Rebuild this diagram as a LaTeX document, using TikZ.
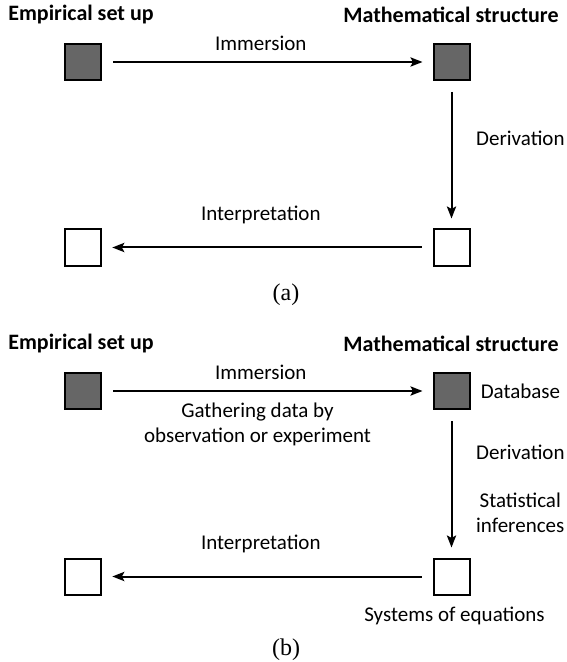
\documentclass[tikz,border=0pt]{standalone}
\usepackage{fontspec}
\setmainfont{Carlito}
\newfontfamily\capfont{Liberation Serif}
\usetikzlibrary{arrows.meta,positioning}

\begin{document}
\begin{tikzpicture}[x=0.5pt,y=-0.5pt,font=\fontsize{10.5pt}{12.5pt}\selectfont]
        \useasboundingbox (0,0) rectangle (566,662);

        % (a)
        \node[font=\fontsize{11pt}{13pt}\selectfont\bfseries] (Ta) at (81,15) {Empirical set up};
        \node[font=\fontsize{11pt}{13pt}\selectfont\bfseries] (Ua) at (451,15) {Mathematical structure};

        \begin{scope}[every node/.style={rectangle,draw,line width=1pt,minimum size=18pt,inner sep=0pt}]
            \node[fill=black!60] (A) at (83.3,62) {};
            \node[fill=black!60] (B) at (451.5,62) {};
            \node (C) at (83.3,247.5) {};
            \node (D) at (451.5,247.5) {};
        \end{scope}

        \begin{scope}[>={Stealth[black,length=6pt,width=4.6pt,inset=1.2pt]},
            every edge/.style={line width=1pt, draw, shorten <=5.5pt, shorten >=5pt}]
            \path [->] (A) edge node[above=2pt, pos=0.48]{Immersion} (B);
            \path [->] (B) edge node[right=8.5pt, pos=0.39]{Derivation} (D);
            \path [->] (D) edge node[above=8pt, pos=0.52]{Interpretation} (C);
        \end{scope}

        \node[font=\capfont\fontsize{12pt}{14pt}\selectfont] (capa) at (286,295) {(a)};

        % (b)
        \node[font=\fontsize{11pt}{13pt}\selectfont\bfseries] (Tb) at (81,344) {Empirical set up};
        \node[font=\fontsize{11pt}{13pt}\selectfont\bfseries] (Ub) at (451,344) {Mathematical structure};

        \begin{scope}[every node/.style={rectangle,draw,line width=1pt,minimum size=18pt,inner sep=0pt}]
            \node[fill=black!60] (E) at (83.3,391) {};
            \node[fill=black!60] (F) at (451.5,391) {};
            \node (G) at (83.3,576.5) {};
            \node (H) at (451.5,576.5) {};
        \end{scope}

        \node[right=1.6pt of F] (db) {Database};
        \node[below=2pt of H, xshift=1.5pt] (eq) {Systems of equations};

        \begin{scope}[>={Stealth[black,length=6pt,width=4.6pt,inset=1.2pt]},
            every edge/.style={line width=1pt, draw, shorten <=5.5pt, shorten >=5pt}]
            \path [->] (E) edge node[above=2pt, pos=0.48]{Immersion}
                node[below=2.2pt, pos=0.47, align=center]{Gathering data by\\ observation or experiment} (F);
            \path [->] (F) edge node[right=8.5pt, pos=0.29]{Derivation}
                node[right=8.5pt, pos=0.70, align=center]{Statistical\\ inferences} (H);
            \path [->] (H) edge node[above=8pt, pos=0.52]{Interpretation} (G);
        \end{scope}

        \node[font=\capfont\fontsize{12pt}{14pt}\selectfont] (capb) at (286,650) {(b)};
    \end{tikzpicture}
\end{document}
